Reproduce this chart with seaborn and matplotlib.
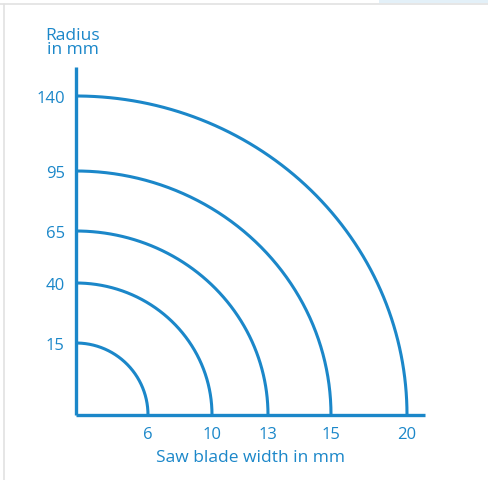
import numpy as np
import pandas as pd
import matplotlib.pyplot as plt
import seaborn as sbn
from matplotlib.lines import Line2D
from matplotlib.patches import Rectangle

# blade widths (mm) and matching minimum radius (mm)
widths = [6, 10, 13, 15, 20]
radii = [15, 40, 65, 95, 140]

# where the labels sit along each axis (axis units, not to scale)
x_pos = [72, 136, 192, 255, 331]
y_pos = [72, 132, 184, 244, 319]

blue = '#1b87c9'

sbn.set_style('white')
plt.rcParams['font.family'] = ['Open Sans', 'DejaVu Sans']

fig = plt.figure(figsize=(4.88, 4.81), dpi=100)
ax = fig.add_axes([76 / 488, 1 - 416 / 481, 349 / 488, 348 / 481])

# quarter arcs from y-axis to x-axis
t = np.linspace(0, np.pi / 2, 200)
frames = []
for w, r, a, b in zip(widths, radii, x_pos, y_pos):
    frames.append(pd.DataFrame({'x': a * np.cos(t), 'y': b * np.sin(t),
                                't': t, 'width': w}))
df = pd.concat(frames)
sbn.lineplot(data=df, x='x', y='y', units='width', estimator=None, sort=False,
             color=blue, lw=2.2, ax=ax)

ax.set_xlim(0, 349)
ax.set_ylim(0, 348)
ax.set_xticks(x_pos)
ax.set_xticklabels([str(w) for w in widths])
ax.set_yticks(y_pos)
ax.set_yticklabels([str(r) for r in radii])
ax.tick_params(length=0, labelsize=12, labelcolor=blue, pad=8)
ax.set_xlabel('Saw blade width in mm', fontsize=12.5, color=blue, labelpad=5)
ax.set_ylabel('')
for s in ['top', 'right']:
    ax.spines[s].set_visible(False)
for s in ['left', 'bottom']:
    ax.spines[s].set_color(blue)
    ax.spines[s].set_linewidth(2.4)
    ax.spines[s].set_capstyle('butt')
ax.patch.set_alpha(0)

fig.text(73 / 488, 1 - 43 / 481, 'Radius\nin mm', ha='center', va='center',
         fontsize=12.5, color=blue, linespacing=0.85)

# page frame bits
fig.add_artist(Rectangle((379 / 488, 1 - 4 / 481), 109 / 488, 4 / 481,
                         transform=fig.transFigure, color='#e3f0f8', lw=0))
fig.add_artist(Line2D([0, 1], [1 - 4.5 / 481] * 2, transform=fig.transFigure,
                      color='#e2e2e2', lw=1.2))
fig.add_artist(Line2D([4 / 488] * 2, [0, 1 - 4.5 / 481], transform=fig.transFigure,
                      color='#e2e2e2', lw=1.2))

fig.savefig('out.png', dpi=100)
